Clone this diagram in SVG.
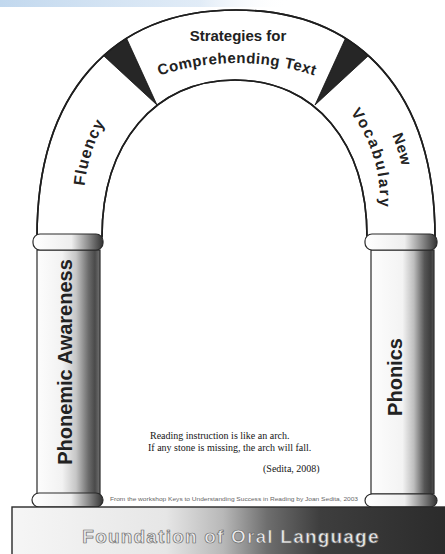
<svg xmlns="http://www.w3.org/2000/svg" width="445" height="554" viewBox="0 0 445 554">
<defs>
<linearGradient id="sky" x1="0" x2="1" y1="0" y2="0">
<stop offset="0" stop-color="#8fb8e0" stop-opacity="0.55"/>
<stop offset="0.45" stop-color="#a9c8e8" stop-opacity="0.35"/>
<stop offset="0.65" stop-color="#ffffff" stop-opacity="0"/>
</linearGradient>
<linearGradient id="shaftL" x1="0" x2="1" y1="0" y2="0">
<stop offset="0" stop-color="#fdfdfd"/>
<stop offset="0.4" stop-color="#f2f2f2"/>
<stop offset="0.62" stop-color="#c6c6c6"/>
<stop offset="0.82" stop-color="#6a6a6a"/>
<stop offset="0.92" stop-color="#4a4a4a"/>
<stop offset="1" stop-color="#727272"/>
</linearGradient>
<linearGradient id="shaftR" x1="0" x2="1" y1="0" y2="0">
<stop offset="0" stop-color="#fdfdfd"/>
<stop offset="0.5" stop-color="#f3f3f3"/>
<stop offset="0.68" stop-color="#bdbdbd"/>
<stop offset="0.85" stop-color="#555555"/>
<stop offset="0.95" stop-color="#3c3c3c"/>
<stop offset="1" stop-color="#555555"/>
</linearGradient>
<linearGradient id="cap" x1="0" x2="1" y1="0" y2="0">
<stop offset="0" stop-color="#ffffff"/>
<stop offset="0.55" stop-color="#eeeeee"/>
<stop offset="0.8" stop-color="#888888"/>
<stop offset="1" stop-color="#333333"/>
</linearGradient>
<linearGradient id="base" x1="0" x2="1" y1="0" y2="0">
<stop offset="0" stop-color="#f6f6f6"/>
<stop offset="0.35" stop-color="#e6e6e6"/>
<stop offset="0.48" stop-color="#b8b8b8"/>
<stop offset="0.58" stop-color="#6e6e6e"/>
<stop offset="0.7" stop-color="#3e3e3e"/>
<stop offset="1" stop-color="#2a2a2a"/>
</linearGradient>
<clipPath id="archClip">
<path d="M37,237 C37,94 111,10 236,10 C361,10 435,94 435,237 L367,237 C367,143 315,80 235,80 C155,80 102,143 102,237 Z"/>
</clipPath>
<path id="pFluency" d="M98.2,264.2 A152,152 0 0 1 162.3,67.1"/>
<path id="pVocab" d="M308,75.3 A144,144 0 0 1 365.4,263.1"/>
<path id="pNew" d="M320.5,53.6 A169,169 0 0 1 387.9,274.1"/>
<path id="pComp" d="M78.9,120.6 A246,246 0 0 1 395.1,120.6"/>
</defs>
<style>
.arch{fill:#ffffff;stroke:#1e1e1e;stroke-width:1.6}
.wedge{fill:#262626;stroke:#111;stroke-width:0.8}
.lbl{font-family:"Liberation Sans",Arial,sans-serif;font-weight:bold;fill:#222}
.edge{stroke:#2a2a2a;stroke-width:1.2}
.quote{font-family:"Liberation Serif","Times New Roman",serif;font-size:10px;fill:#151515}
</style>
<rect x="0" y="0" width="445" height="554" fill="#ffffff"/>
<rect x="0" y="0" width="445" height="7" fill="url(#sky)"/>

<g id="arch">
<path class="arch" d="M37,237 C37,94 111,10 236,10 C361,10 435,94 435,237 L367,237 C367,143 315,80 235,80 C155,80 102,143 102,237 Z"/>
<g clip-path="url(#archClip)">
<polygon class="wedge" points="157,105 92,45 120,24"/>
<polygon class="wedge" points="315,105 380,45 352,24"/>
</g>
<path fill="none" stroke="#1e1e1e" stroke-width="1.6" d="M37,237 C37,94 111,10 236,10 C361,10 435,94 435,237 M367,237 C367,143 315,80 235,80 C155,80 102,143 102,237"/>
</g>

<g id="stone-fluency">
<text class="lbl" font-size="16" letter-spacing="1"><textPath href="#pFluency" startOffset="50%" text-anchor="middle">Fluency</textPath></text>
</g>

<g id="stone-strategies">
<text class="lbl" font-size="15" x="238" y="41" text-anchor="middle">Strategies for</text>
<text class="lbl" font-size="15" letter-spacing="0.5"><textPath href="#pComp" startOffset="50%" text-anchor="middle">Comprehending Text</textPath></text>
</g>

<g id="stone-vocabulary">
<text class="lbl" font-size="15" letter-spacing="0.5"><textPath href="#pNew" startOffset="50%" text-anchor="middle">New</textPath></text>
<text class="lbl" font-size="15.5" letter-spacing="2"><textPath href="#pVocab" startOffset="50%" text-anchor="middle">Vocabulary</textPath></text>
</g>

<g id="pillar-left">
<rect x="37" y="250" width="63" height="244" fill="url(#shaftL)" class="edge"/>
<rect x="33" y="234" width="70" height="16" rx="7" fill="url(#cap)" class="edge"/>
<rect x="32" y="493" width="71" height="14" rx="7" fill="url(#cap)" class="edge"/>
<text class="lbl" font-size="20" text-anchor="middle" transform="translate(72,362) rotate(-90)">Phonemic Awareness</text>
</g>

<g id="pillar-right">
<rect x="371" y="250" width="63" height="244" fill="url(#shaftR)" class="edge"/>
<rect x="365" y="234" width="72" height="16" rx="7" fill="url(#cap)" class="edge"/>
<rect x="365" y="494" width="72" height="13" rx="7" fill="url(#cap)" class="edge"/>
<text class="lbl" font-size="20" text-anchor="middle" transform="translate(402,377) rotate(-90)">Phonics</text>
</g>

<g id="quote">
<text class="quote" x="150" y="439">Reading instruction is like an arch.</text>
<text class="quote" x="148" y="451">If any stone is missing, the arch will fall.</text>
<text class="quote" x="263" y="472" font-size="9">(Sedita, 2008)</text>
<text x="110" y="501" font-family="Liberation Sans,Arial,sans-serif" font-size="5.5" fill="#666" textLength="248" lengthAdjust="spacingAndGlyphs">From the workshop Keys to Understanding Success in Reading by Joan Sedita, 2003</text>
</g>

<g id="foundation">
<rect x="12" y="507" width="440" height="50" fill="url(#base)" stroke="#2a2a2a" stroke-width="1.4"/>
<text x="231" y="543" text-anchor="middle" font-family="Liberation Sans,Arial,sans-serif" font-weight="bold" font-size="19" letter-spacing="1.2" fill="#ececec" stroke="#6a6a6a" stroke-width="0.7">Foundation of Oral Language</text>
</g>

<g id="connectors"/>
</svg>
